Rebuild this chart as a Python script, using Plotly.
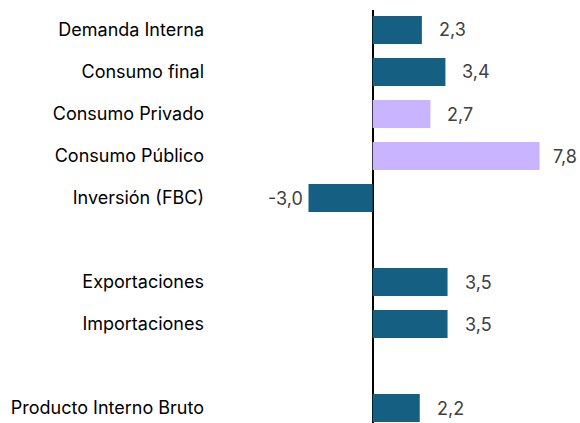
import plotly.graph_objects as go

categories = ["Demanda Interna", "Consumo final", "Consumo Privado", "Consumo Público",
              "Inversión (FBC)", "", "Exportaciones", "Importaciones", "",
              "Producto Interno Bruto"]
values = [2.3, 3.4, 2.7, 7.8, -3.0, None, 3.5, 3.5, None, 2.2]
colors = ["#156082", "#156082", "#C8B4FF", "#C8B4FF", "#156082", "#156082",
          "#156082", "#156082", "#156082", "#156082"]

positions = list(range(len(categories)))
bar_pos = [p for p, v in zip(positions, values) if v is not None]
bar_val = [v for v in values if v is not None]
bar_col = [c for c, v in zip(colors, values) if v is not None]
vmax = max(bar_val)

fig = go.Figure()
fig.add_trace(go.Bar(
    x=bar_val, y=bar_pos, orientation="h",
    marker=dict(color=bar_col, line=dict(width=0)),
    width=0.667, hoverinfo="skip",
))

for p, v in zip(bar_pos, bar_val):
    label = f"{v:.1f}".replace(".", ",")
    if v < 0:
        shift, anchor = -4, "right"
    elif v == vmax:
        shift, anchor = 11, "left"
    else:
        shift, anchor = 15, "left"
    fig.add_annotation(
        x=v, y=p, text=label, showarrow=False,
        xanchor=anchor, xshift=shift,
        font=dict(family="Inter", size=18, color="#404040"),
    )

fig.update_layout(
    width=580, height=423,
    margin=dict(l=215, r=0, t=10, b=0),
    plot_bgcolor="white", paper_bgcolor="white",
    showlegend=False,
    xaxis=dict(range=[-7.37, 9.69], showgrid=False, showticklabels=False,
               zeroline=True, zerolinecolor="black", zerolinewidth=2,
               showline=False, ticks=""),
    yaxis=dict(range=[9.357, -0.476], tickvals=positions, ticktext=categories,
               showgrid=False, zeroline=False, showline=False, ticks="",
               ticklabelstandoff=10,
               tickfont=dict(family="Inter", size=18, color="#000000")),
)

fig.write_html("out.html", config={"displayModeBar": False},
               post_script="document.body.style.margin='0';document.body.style.overflow='hidden';")
